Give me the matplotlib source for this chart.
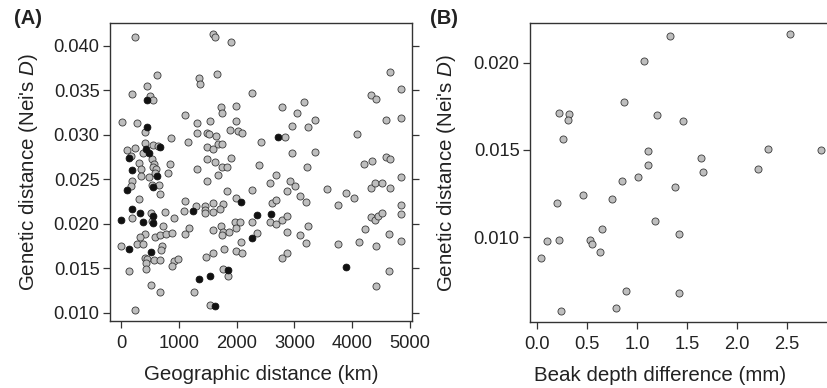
import matplotlib
matplotlib.use("Agg")
import matplotlib.pyplot as plt

plt.rcParams['font.family'] = ['Liberation Sans', 'DejaVu Sans']
plt.rcParams['mathtext.fontset'] = 'custom'
plt.rcParams['mathtext.it'] = 'Liberation Sans:italic'
plt.rcParams['mathtext.rm'] = 'Liberation Sans'

# ---------------- Panel A data: geographic vs genetic distance ----------------
geo_gray_km = [248, 1598, 1621, 1903, 617, 1344, 1373, 1655, 456, 196, 508, 548, 2267, 1736, 1990,
               1753, 1102, 12, 283, 410, 1321, 1540, 1990, 1321, 1482, 1529, 1644, 1886, 2019, 2088,
               871, 1165, 421, 548, 640, 387, 110, 248, 1494, 1598, 1684, 1742, 2422, 168, 537,
               317, 577, 560, 606, 848, 1494, 1627, 1909, 352, 1309, 1742, 1840, 2388, 808, 341,
               490, 583, 1673, 185, 1482, 168, 537, 664, 675, 1840, 2267, 312, 1102, 1598, 1759,
               1990, 1298, 1454, 1448, 1448, 1090, 1598, 1713, 514, 762, 191, 531, 923, 2267, 733,
               1177, 1102, 1598, 1730, 1771, 1875, 1978, 2059, 1990, 2353, 416, 323, 583, 675, 773,
               888, 1742, 2076, 6, 283, 387, 715, 692, 1598, 1777, 1990, 2088, 1465, 421, 456,
               433, 571, 675, 923, 992, 888, 433, 139, 1771, 1846, 519, 675, 1263, 248, 1540,
               4648, 4839, 4325, 4406, 3172, 2780, 3045, 3362, 2964, 3230, 4591, 4839, 4083, 2838,
               2964, 3362, 3224, 4199, 4337, 4591, 4654, 2682, 2584, 2918, 3016, 2866, 4839, 3564,
               4325, 4389, 4522, 4654, 3103, 3201, 3887, 4031, 3749, 2607, 2682, 4839, 4839, 2584,
               2676, 2791, 2872, 4331, 4389, 4452, 4522, 3241, 2866, 3103, 4227, 4637, 4839, 3195,
               3749, 4118, 4412, 2866, 2791, 4637, 4406]
gen_gray_D = [0.04094, 0.04131, 0.04098, 0.04038, 0.03675, 0.03637, 0.03573, 0.03678, 0.03551,
              0.03454, 0.03439, 0.03394, 0.03469, 0.03311, 0.03319, 0.03244, 0.03225, 0.03139,
              0.03135, 0.03034, 0.03135, 0.03154, 0.03158, 0.03019, 0.03019, 0.03004, 0.02982,
              0.03049, 0.03038, 0.03015, 0.02963, 0.02914, 0.02907, 0.02881, 0.02877, 0.02794,
              0.02828, 0.02847, 0.02862, 0.02836, 0.02896, 0.02896, 0.02914, 0.02757, 0.02731,
              0.02682, 0.02675, 0.02637, 0.02618, 0.02675, 0.02731, 0.02697, 0.02735, 0.02615,
              0.02615, 0.02637, 0.02637, 0.02656, 0.02566, 0.02532, 0.02525, 0.02570, 0.02544,
              0.02480, 0.02476, 0.02427, 0.02431, 0.02431, 0.02338, 0.02364, 0.02375, 0.02278,
              0.02251, 0.02233, 0.02225, 0.02293, 0.02195, 0.02203, 0.02158, 0.02120, 0.02147,
              0.02135, 0.02165, 0.02120, 0.02128, 0.02064, 0.02030, 0.02060, 0.02023, 0.01974,
              0.01952, 0.01888, 0.01933, 0.01971, 0.01903, 0.01903, 0.02015, 0.02015, 0.01956,
              0.01892, 0.01884, 0.01847, 0.01854, 0.01869, 0.01884, 0.01899, 0.01869, 0.01798,
              0.01750, 0.01776, 0.01768, 0.01746, 0.01701, 0.01671, 0.01712, 0.01693, 0.01671,
              0.01626, 0.01619, 0.01604, 0.01559, 0.01592, 0.01596, 0.01585, 0.01604, 0.01521,
              0.01487, 0.01465, 0.01495, 0.01409, 0.01308, 0.01237, 0.01237, 0.01031, 0.01087,
              0.03704, 0.03510, 0.03446, 0.03397, 0.03367, 0.03311, 0.03244, 0.03169, 0.03094,
              0.03083, 0.03165, 0.03184, 0.03004, 0.02970, 0.02791, 0.02802, 0.02637, 0.02667,
              0.02705, 0.02750, 0.02727, 0.02551, 0.02457, 0.02484, 0.02420, 0.02364, 0.02521,
              0.02394, 0.02398, 0.02454, 0.02457, 0.02398, 0.02311, 0.02244, 0.02341, 0.02285,
              0.02206, 0.02236, 0.02266, 0.02210, 0.02113, 0.02019, 0.01997, 0.02045, 0.02090,
              0.02075, 0.02042, 0.02090, 0.02120, 0.01974, 0.01903, 0.01873, 0.01941, 0.01884,
              0.01806, 0.01780, 0.01772, 0.01798, 0.01746, 0.01675, 0.01611, 0.01465, 0.01296]

geo_black_km = [444, 444, 675, 433, 490, 133, 191, 617, 110, 560, 2071, 1240, 191, 323, 560,
                2353, 6, 381, 554, 2272, 144, 514, 1846, 1546, 1350, 1632, 2716, 2601, 3893]
gen_black_D = [0.03386, 0.03087, 0.02862, 0.02839, 0.02794, 0.02738, 0.02603, 0.02532, 0.02375,
               0.02409, 0.02244, 0.02147, 0.02165, 0.02120, 0.02083, 0.02098, 0.02045, 0.02023,
               0.02008, 0.01839, 0.01720, 0.01682, 0.01476, 0.01409, 0.01375, 0.01075, 0.02978,
               0.02105, 0.01517]

# ---------------- Panel B data: beak depth difference vs genetic distance ----------------
beak_mm = [1.33, 2.527, 1.07, 0.87, 0.223, 0.323, 0.313, 0.263, 1.197, 1.46, 1.11, 2.307, 2.837,
           1.64, 1.11, 2.207, 1.66, 1.01, 0.853, 1.38, 0.46, 0.753, 0.203, 1.18, 0.65, 1.423,
           0.103, 0.223, 0.53, 0.553, 0.63, 0.043, 0.89, 1.423, 0.79, 0.24]
gen_B_D = [0.02151, 0.02164, 0.02007, 0.01772, 0.01711, 0.01704, 0.01673, 0.01562, 0.01702,
           0.01665, 0.01495, 0.01505, 0.01501, 0.01455, 0.01413, 0.01388, 0.01371, 0.01346,
           0.01321, 0.01287, 0.01243, 0.01220, 0.01197, 0.01092, 0.01044, 0.01015, 0.00979,
           0.00985, 0.00983, 0.00962, 0.00916, 0.00882, 0.00693, 0.00681, 0.00593, 0.00578]

A_yticks = [0.010, 0.015, 0.020, 0.025, 0.030, 0.035, 0.040]
A_xticks = [0, 1000, 2000, 3000, 4000, 5000]
B_yticks = [0.010, 0.015, 0.020]
B_xticks = [0.0, 0.5, 1.0, 1.5, 2.0, 2.5]

W, H = 828, 388
fig = plt.figure(figsize=(W / 100, H / 100), dpi=100)

TXT = '#222222'
SP = '#333333'
GRAY = '#bebebe'
EDGE = '#3a3a3a'
TICKFS = 13.2
LABFS = 14.8


def px_axes(x0, x1, ytop, ybot):
    return fig.add_axes([x0 / W, 1 - ybot / H, (x1 - x0) / W, (ybot - ytop) / H])


def style(ax):
    for s in ax.spines.values():
        s.set_color(SP)
        s.set_linewidth(1.0)
    ax.tick_params(direction='out', length=5, width=0.9, color=SP, labelcolor=TXT,
                   labelsize=TICKFS)
    ax.tick_params(axis='x', pad=5)
    ax.tick_params(axis='y', pad=2.5)


# Panel A
axA = px_axes(110, 412, 23, 321)
axA.scatter(geo_gray_km, gen_gray_D, s=26, c=GRAY, edgecolors=EDGE, linewidths=0.6, zorder=3)
axA.scatter(geo_black_km, gen_black_D, s=24, c='#111111', edgecolors='#111111', linewidths=0.6,
            zorder=4)
axA.set_xlim(-190, 5035)
axA.set_ylim(0.00907, 0.04255)
axA.set_xticks(A_xticks)
axA.set_xticklabels([str(v) for v in A_xticks])
axA.set_yticks(A_yticks)
axA.set_yticklabels([f"{v:.3f}" for v in A_yticks])
style(axA)
axA.tick_params(axis='y', right=True, labelright=False)
axA.set_xlabel('Geographic distance (km)', fontsize=LABFS, color=TXT)
axA.set_ylabel("Genetic distance (Nei's $\\mathit{D}$)", fontsize=LABFS, color=TXT)
axA.xaxis.set_label_coords(0.5, -0.148)
axA.yaxis.set_label_coords(-0.232, 0.5)

# Panel B
axB = px_axes(530, 840, 23, 322)
axB.scatter(beak_mm, gen_B_D, s=26, c=GRAY, edgecolors=EDGE, linewidths=0.6, zorder=3)
axB.set_xlim(-0.07, 3.03)
axB.set_ylim(0.00513, 0.02227)
axB.set_xticks(B_xticks)
axB.set_xticklabels([f"{v:.1f}" for v in B_xticks])
axB.set_yticks(B_yticks)
axB.set_yticklabels([f"{v:.3f}" for v in B_yticks])
style(axB)
axB.set_xlabel('Beak depth difference (mm)', fontsize=LABFS, color=TXT)
axB.set_ylabel("Genetic distance (Nei's $\\mathit{D}$)", fontsize=LABFS, color=TXT)
axB.xaxis.set_label_coords((660 - 530) / 310 + 0.0, -0.148)
axB.yaxis.set_label_coords(-0.232, 0.5)

fig.text(28 / W, 1 - 19 / H, '(A)', fontsize=14.5, fontweight='bold', color=TXT,
         ha='center', va='center')
fig.text(444 / W, 1 - 19 / H, '(B)', fontsize=14.5, fontweight='bold', color=TXT,
         ha='center', va='center')

fig.savefig('out.png', dpi=100)
